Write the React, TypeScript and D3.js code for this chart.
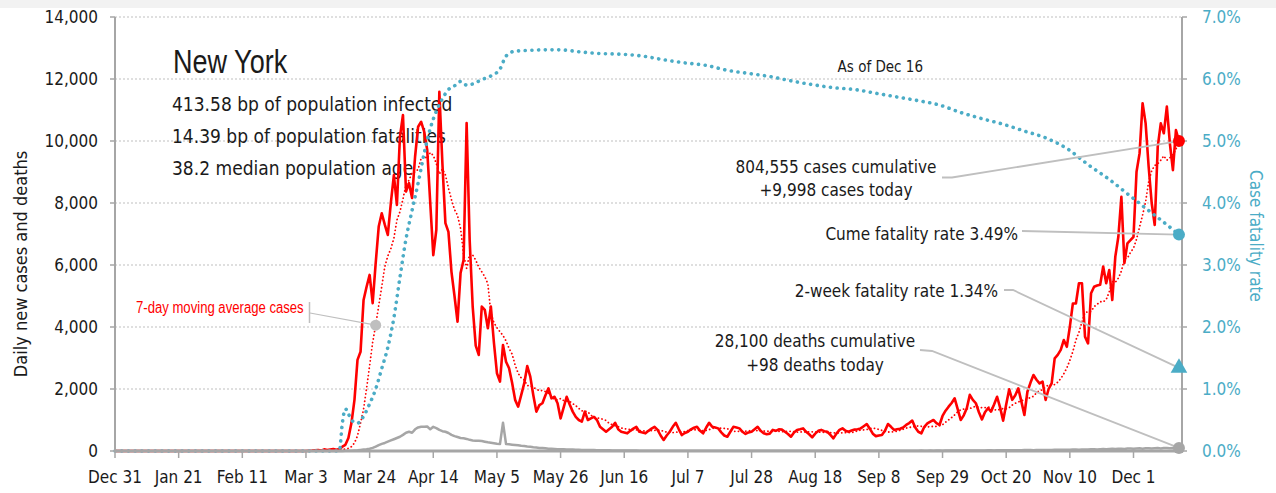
import React, { useEffect } from "react";
import * as d3 from "d3";

// ---------- DATA ----------
const startDate = "2019-12-31";
const endDomainDate = "2020-12-17";

// daily new cases, one value per day from Dec 31, 2019 to Dec 16, 2020
const dailyCases = [
  0,0,0,0,0,0,0,0,0,0, 0,0,0,0,0,0,0,0,0,0, 0,0,0,0,0,0,0,0,0,0,
  0,0,0,0,0,0,0,0,0,0, 0,0,0,0,0,0,0,0,0,0, 0,0,0,0,0,0,0,0,0,0, 0,
  1,0,1,9,11,22,32,13,53,31,49,65,40,60,
  140,200,420,900,1650,2940,3200,4870,5300,5680,4770,6060,7240,7670,7300,6970,8000,8900,7940,
  10140,10840,8370,8640,8160,9500,10460,10620,10300,9710,8000,
  6320,7130,11590,9290,7350,7070,5780,5000,4170,5740,6160,10580,6810,4660,3400,3100,4660,4550,3960,4660,3500,
  2510,2240,3420,2880,2670,2200,1650,1430,1800,2180,
  2740,2400,1800,1270,1480,1540,1800,2020,1700,1750,
  1540,1050,1400,1750,1500,1270,1100,1000,950,1270,
  1000,1050,1100,1000,780,700,620,700,780,910,
  700,620,600,570,650,720,780,620,600,570,
  650,720,780,680,500,355,500,620,780,910,
  700,515,580,620,700,750,780,650,570,750,
  910,780,760,730,600,500,460,620,780,760,
  730,620,550,600,620,700,780,650,570,540,
  560,680,650,700,690,620,550,460,600,680,
  700,730,620,540,440,560,650,680,640,620,
  520,410,560,680,730,650,620,660,690,700,
  730,800,870,720,560,480,500,515,650,870,
  780,680,700,720,760,840,900,980,760,620,
  570,780,890,950,1000,900,840,1130,1300,1430,
  1550,1700,1350,1000,1150,1380,1810,1650,1540,1250,
  1020,1250,1380,1270,1500,1750,1400,980,1500,1990,
  1650,1800,2020,1600,1160,1910,2200,2450,2300,
  2180,2240,1650,2000,2180,2990,3100,3260,3580,3360,
  4010,4760,4760,5410,5410,3690,3470,5090,5300,5340,
  5360,5950,5410,5840,4870,6270,6910,8200,6060,6700,
  6800,6910,9010,9600,11220,10570,9170,8000,7290,9820,
  10570,10250,11110,9920,9060,10350,9998,
];

// daily new deaths, same dates
const dailyDeaths = [
  0,0,0,0,0,0,0,0,0,0, 0,0,0,0,0,0,0,0,0,0, 0,0,0,0,0,0,0,0,0,0,
  0,0,0,0,0,0,0,0,0,0, 0,0,0,0,0,0,0,0,0,0, 0,0,0,0,0,0,0,0,0,0,
  0,0,0,0,0,0,0,0,0,0, 0,0,0,0,0,
  3,5,8,12,18,25,35,45,55,75,100,140,190,230,260,300,340,380,420,460,520,590,620,590,700,760,780,780,790,700,
  780,740,680,640,620,580,520,480,450,420,410,390,360,340,330,330,320,300,280,265,250,235,225,
  910,225,215,205,195,185,170,160,145,135,120,110,100,95,85,75,70,65,60,58,55,50,48,45,42,40,35,33,
  32,30,30,28,26,25,24,22,20,20,18,17,16,15,14,14,13,12,12,11,10,10,9,9,8,
  8,7,9,8,6,5,7,8,7,6, 9,8,7,5,6,7,8,9,7,6, 5,6,8,7,6,5,7,8,6,5, 7,6,5,6,8,7,6,5,7,6,
  8,7,6,5,6,7,8,6,5,6, 7,8,6,5,7,6,5,8,7,6, 9,8,7,6,8,9,10,8,7,9, 10,9,8,10,11,9,8,10,12,11,
  10,9,11,12,10,13,12,11,14,12, 13,15,12,14,16,13,15,17,14,16,
  15,17,18,16,19,20,18,21,23,20, 22,24,21,25,26,23,27,28,25,30,
  29,31,27,33,35,30,34,36,32,38, 40,37,42,44,39,45,48,43,50,52,
  47,55,58,52,60,63,57,66,70,62,72,75,68,78,80,72,82,85,76,88,90,80,92,95,84,96,94,86,98,92,98,
];

// case fatality rate (%), read at selected dates
const cfrDates = [
  "2019-12-31","2020-03-14","2020-03-15","2020-03-16","2020-03-17","2020-03-18","2020-03-20",
  "2020-03-22","2020-03-24","2020-03-26","2020-03-28","2020-03-30","2020-04-01","2020-04-03",
  "2020-04-05","2020-04-07","2020-04-09","2020-04-11","2020-04-13","2020-04-15","2020-04-17",
  "2020-04-19","2020-04-21","2020-04-23","2020-04-25","2020-04-27","2020-04-30","2020-05-03",
  "2020-05-06","2020-05-08","2020-05-11","2020-05-15","2020-05-20","2020-05-26","2020-06-01",
  "2020-06-08","2020-06-15","2020-06-22","2020-06-29","2020-07-06","2020-07-13","2020-07-20",
  "2020-07-27","2020-08-03","2020-08-10","2020-08-17","2020-08-24","2020-08-31","2020-09-07",
  "2020-09-14","2020-09-21","2020-09-28","2020-10-05","2020-10-12","2020-10-19","2020-10-26",
  "2020-11-02","2020-11-09","2020-11-16","2020-11-23","2020-11-30","2020-12-07","2020-12-12","2020-12-16",
];
const cfrRates = [
  0,0,0.45,0.68,0.6,0.5,0.45,
  0.56,0.76,1.0,1.33,1.67,2.15,2.8,
  3.42,3.88,4.32,4.8,5.2,5.48,5.68,
  5.83,5.89,5.96,5.9,5.92,5.99,6.05,
  6.16,6.37,6.45,6.46,6.47,6.47,6.44,
  6.41,6.4,6.37,6.31,6.26,6.22,6.14,
  6.09,6.04,5.97,5.91,5.86,5.83,5.77,
  5.71,5.65,5.58,5.46,5.36,5.27,5.16,
  5.05,4.88,4.62,4.38,4.11,3.84,3.65,3.49,
];

const xTickDates = [
  "2019-12-31","2020-01-21","2020-02-11","2020-03-03","2020-03-24","2020-04-14","2020-05-05",
  "2020-05-26","2020-06-16","2020-07-07","2020-07-28","2020-08-18","2020-09-08","2020-09-29",
  "2020-10-20","2020-11-10","2020-12-01",
];
const yTicks = [0, 2000, 4000, 6000, 8000, 10000, 12000, 14000];
const y2Ticks = [0, 1, 2, 3, 4, 5, 6, 7];

const stateName = "New York";
const infoLines = [
  "413.58 bp of population infected",
  "14.39 bp of population fatalities",
  "38.2 median population age",
];
const asOfLabel = "As of Dec 16";
const maLabel = "7-day moving average cases";
const maMarkerDate = "2020-03-26";
const casesLines = ["804,555 cases cumulative", "+9,998 cases today"];
const cumeLabel = "Cume fatality rate 3.49%";
const twoWeekLabel = "2-week fatality rate 1.34%";
const deathsLines = ["28,100 deaths cumulative", "+98 deaths today"];
const latestCases = 9998;
const latestDeaths = 98;
const cumeFatality = 3.49;
const twoWeekFatality = 1.34;

// ---------- STYLE ----------
const RED = "#ff0000";
const BLUE = "#4bacc6";
const GRAY = "#a6a6a6";
const LEADER = "#bfbfbf";
const TEXT = "#1a1a1a";
const COND = "'DejaVu Sans Condensed', 'DejaVu Sans', sans-serif";
const ARIAL = "'Liberation Sans', Arial, sans-serif";

const W = 1276;
const H = 493;
const left = 115;
const right = 1182;
const top = 17;
const bottom = 451;

export default function App() {
  useEffect(() => {
    document.body.style.margin = "0";
  }, []);

  const parse = d3.utcParse("%Y-%m-%d");
  const start = parse(startDate)!;
  const dates = dailyCases.map((_, i) => d3.utcDay.offset(start, i));
  const lastDate = dates[dates.length - 1];

  const x = d3.scaleUtc().domain([start, parse(endDomainDate)!]).range([left, right]);
  const y = d3.scaleLinear().domain([0, 14000]).range([bottom, top]);
  const y2 = d3.scaleLinear().domain([0, 7]).range([bottom, top]);

  const movingAvg = dailyCases.map((_, i) =>
    i < 7 ? 0 : (d3.mean(dailyCases.slice(i - 7, i)) as number)
  );

  const lineY = d3
    .line<number>()
    .x((_, i) => x(dates[i]))
    .y((d) => y(d));
  const cfrLine = d3
    .line<number>()
    .x((_, i) => x(parse(cfrDates[i])!))
    .y((d) => y2(d))
    .curve(d3.curveMonotoneX);

  const fmt = d3.utcFormat("%b %-d");
  const maIdx = dates.findIndex((d) => +d === +parse(maMarkerDate)!);
  const maX = x(dates[maIdx]);
  const maY = y(movingAvg[maIdx]);
  const lx = x(lastDate);
  const tri = d3.symbol().type(d3.symbolTriangle).size(120)()!;

  return (
    <svg width={W} height={H} style={{ display: "block", background: "#fff" }}>
      <rect x={0} y={0} width={W} height={8} fill="#f2f2f2" />

      {/* gridlines */}
      {yTicks.slice(1).map((t) => (
        <line key={"g" + t} x1={left} x2={right} y1={y(t)} y2={y(t)} stroke="#bfbfbf" strokeWidth={1.2} strokeDasharray="2 2" />
      ))}

      {/* info text */}
      <text transform="translate(173,73) scale(0.82,1)" fontFamily={ARIAL} fontSize={33} fill={TEXT}>{stateName}</text>
      {infoLines.map((t, i) => (
        <text key={t} x={172} y={110.5 + i * 32} fontFamily={COND} fontSize={19} fill={TEXT}>{t}</text>
      ))}
      <text x={923} y={72} textAnchor="end" fontFamily={COND} fontSize={15} fill={TEXT}>{asOfLabel}</text>

      {/* series */}
      <path d={lineY(dailyDeaths)!} fill="none" stroke={GRAY} strokeWidth={2.5} strokeLinejoin="round" />
      <path d={lineY(movingAvg)!} fill="none" stroke={RED} strokeWidth={1.8} strokeDasharray="0.1 3.6" strokeLinecap="round" />
      <path d={lineY(dailyCases)!} fill="none" stroke={RED} strokeWidth={2.6} strokeLinejoin="round" />
      <path d={cfrLine(cfrRates)!} fill="none" stroke={BLUE} strokeWidth={3.6} strokeDasharray="0.1 6.6" strokeLinecap="round" />

      {/* axes */}
      <line x1={left} x2={left} y1={top} y2={bottom} stroke={GRAY} strokeWidth={2} />
      <line x1={right} x2={right} y1={top} y2={bottom} stroke={GRAY} strokeWidth={2} />
      <line x1={left} x2={right + 1} y1={bottom} y2={bottom} stroke={GRAY} strokeWidth={3} />
      {yTicks.map((t) => (
        <g key={"yl" + t}>
          <line x1={left - 5} x2={left} y1={y(t)} y2={y(t)} stroke={GRAY} strokeWidth={1.5} />
          <text x={98} y={y(t) + 6} textAnchor="end" fontFamily={COND} fontSize={17} fill={TEXT}>
            {d3.format(",")(t)}
          </text>
        </g>
      ))}
      {y2Ticks.map((t) => (
        <g key={"yr" + t}>
          <line x1={right} x2={right + 5} y1={y2(t)} y2={y2(t)} stroke={GRAY} strokeWidth={1.5} />
          <text x={1202} y={y2(t) + 6} fontFamily={COND} fontSize={17} fill={BLUE}>
            {t.toFixed(1) + "%"}
          </text>
        </g>
      ))}
      {xTickDates.map((s) => {
        const d = parse(s)!;
        return (
          <g key={s}>
            <line x1={x(d)} x2={x(d)} y1={bottom} y2={bottom + 7} stroke={GRAY} strokeWidth={1.5} />
            <text x={x(d)} y={483} textAnchor="middle" fontFamily={COND} fontSize={17} fill={TEXT}>
              {fmt(d)}
            </text>
          </g>
        );
      })}
      <text transform="translate(27,264) rotate(-90)" textAnchor="middle" fontFamily={COND} fontSize={18} fill={TEXT}>
        Daily new cases and deaths
      </text>
      <text transform="translate(1250,236) rotate(90)" textAnchor="middle" fontFamily={COND} fontSize={17} fill={BLUE}>
        Case fatality rate
      </text>

      {/* moving average callout */}
      <text transform="translate(136,313) scale(0.82,1)" fontFamily={ARIAL} fontSize={16} fill={RED}>{maLabel}</text>
      <line x1={309.5} x2={309.5} y1={302} y2={323} stroke={LEADER} strokeWidth={1.5} />
      <line x1={310} y1={313} x2={maX} y2={maY} stroke={LEADER} strokeWidth={1.2} />
      <circle cx={maX} cy={maY} r={5.5} fill="#bfbfbf" />

      {/* right callouts */}
      {casesLines.map((t, i) => (
        <text key={t} x={836} y={173 + i * 23} textAnchor="middle" fontFamily={COND} fontSize={17} fill={TEXT}>{t}</text>
      ))}
      <polyline points={`942,177.5 952,177.5 ${lx},${y(latestCases)}`} fill="none" stroke={LEADER} strokeWidth={1.8} />
      <text x={1018} y={240} textAnchor="end" fontFamily={COND} fontSize={17} fill={TEXT}>{cumeLabel}</text>
      <polyline points={`1022,231 ${lx},${y2(cumeFatality)}`} fill="none" stroke={LEADER} strokeWidth={1.8} />
      <text x={998} y={297} textAnchor="end" fontFamily={COND} fontSize={17} fill={TEXT}>{twoWeekLabel}</text>
      <polyline points={`1004,290 1013,290 ${lx},${y2(twoWeekFatality)}`} fill="none" stroke={LEADER} strokeWidth={1.8} />
      {deathsLines.map((t, i) => (
        <text key={t} x={815} y={347 + i * 24} textAnchor="middle" fontFamily={COND} fontSize={17} fill={TEXT}>{t}</text>
      ))}
      <polyline points={`920,350 932,351 ${lx},${y(latestDeaths)}`} fill="none" stroke={LEADER} strokeWidth={1.8} />

      {/* end markers */}
      <circle cx={lx} cy={y(latestCases)} r={6} fill={RED} />
      <circle cx={lx} cy={y2(cumeFatality)} r={6} fill={BLUE} />
      <path d={tri} transform={`translate(${lx},${y2(twoWeekFatality)})`} fill={BLUE} />
      <circle cx={lx} cy={y(latestDeaths)} r={6} fill={GRAY} />
    </svg>
  );
}
